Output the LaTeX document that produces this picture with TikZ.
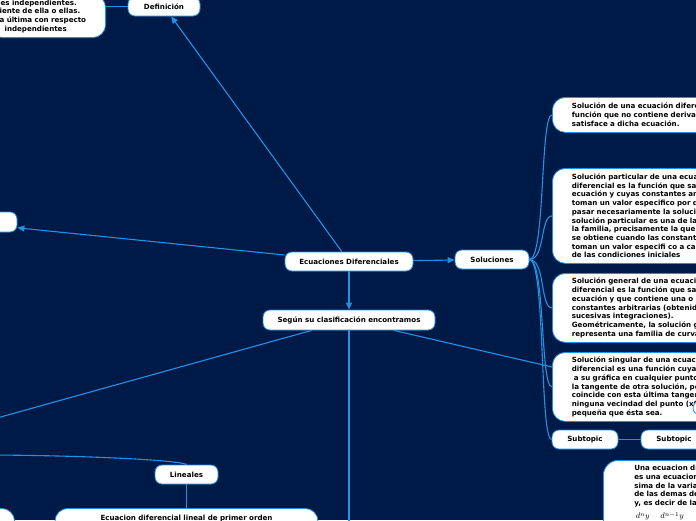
\documentclass[tikz,border=0pt]{standalone}
\usepackage{fontspec}
\setmainfont{DejaVu Sans}
\usetikzlibrary{arrows.meta}

\definecolor{mapnavy}{HTML}{001A48}
\definecolor{mapblue}{HTML}{2192E3}

\begin{document}
\begin{tikzpicture}[x=1pt,y=-1pt,
  onderwerp/.style={draw=mapblue,line width=0.8pt,fill=white,rounded corners=7pt,
    minimum height=19pt,inner sep=0pt,font=\bfseries\fontsize{7.1}{8.7}\selectfont},
  tekstvak/.style={draw=mapblue,line width=0.8pt,fill=white,rounded corners=13pt,
    align=left,inner xsep=19.5pt,inner ysep=0pt,text width=260pt,
    font=\bfseries\fontsize{7.1}{8.7}\selectfont},
  tak/.style={mapblue,line width=1.1pt},
  pijl/.style={tak,-{Triangle[length=7pt,width=6pt]}}]

  % achtergrond
  \useasboundingbox (0,0) rectangle (696,520);
  \fill[mapnavy] (0,0) rectangle (696,520);
  \clip (0,0) rectangle (696,520);

  % knopen
  \node[onderwerp,minimum width=128pt] (ed) at (349,261.5) {Ecuaciones Diferenciales};
  \node[onderwerp,minimum width=172pt,minimum height=20pt] (sg) at (349,320)
    {Según su clasificación encontramos};
  \node[onderwerp,minimum width=74pt] (sol) at (492,259.5) {Soluciones};
  \node[onderwerp,minimum width=72pt] (def) at (164,6.5) {Definición};
  \node[onderwerp,minimum width=114pt,minimum height=20pt] (links) at (-40,222) {};
  \node[onderwerp,minimum width=63pt] (lin) at (186.5,474.5) {Lineales};
  \node[onderwerp,minimum width=66pt] (sub1) at (585,439.5) {Subtopic};
  \node[onderwerp,minimum width=66pt] (sub2) at (674,439.5) {Subtopic};

  % tekstvakken
  \node[tekstvak,anchor=south east,text width=112pt,inner xsep=2pt,inner ysep=5pt]
    (deftekst) at (106,38)
    {\hspace{9pt}es independientes.\\\hspace{8pt}iente de ella o ellas.\\\hspace{8pt}a última con respecto\\\hspace{13pt}independientes};
  \node[tekstvak,anchor=north west,minimum height=35pt] (sa) at (552,97)
    {Solución de una ecuación diferencial\\función que no contiene derivadas\\satisface a dicha ecuación.};
  \node[tekstvak,anchor=north west,minimum height=95pt] (sb) at (552,168)
    {Solución particular de una ecuación\\diferencial es la función que satisface\\ecuación y cuyas constantes arbitrarias\\toman un valor especifico por de\\pasar necesariamente la solución\\solución particular es una de las\\la familia, precisamente la que\\se obtiene cuando las constantes\\toman un valor especifi co a causa\\de las condiciones iniciales};
  \node[tekstvak,anchor=north west,minimum height=69pt] (sc) at (552,273)
    {Solución general de una ecuación\\diferencial es la función que satisface\\ecuación y que contiene una o más\\constantes arbitrarias (obtenidas\\sucesivas integraciones).\\Geométricamente, la solución general\\representa una familia de curvas};
  \node[tekstvak,anchor=north west,minimum height=69pt] (sd) at (552,352)
    {Solución singular de una ecuación\\diferencial es una función cuya t\\\hspace{2pt}a su gráfica en cualquier punto\\la tangente de otra solución, pero\\coincide con esta última tangente\\ninguna vecindad del punto (x0\\pequeña que ésta sea.};
  \node[circle,draw=mapblue,line width=0.8pt,fill=white,minimum size=14pt,inner sep=0pt]
    (knop) at (700,408) {};
  \node[tekstvak,anchor=north west,text width=120pt,inner xsep=31pt,inner ysep=5pt,
    rounded corners=15pt] (se) at (603,460)
    {Una ecuacion diferencial\\es una ecuacion\\sima de la variable\\de las demas de\\y, es decir de la\\[4pt]
     {\fontsize{8}{10}\selectfont $\displaystyle\frac{d^ny}{dx^n}\quad\frac{d^{n-1}y}{dx^{n-1}}$}};
  \node[tekstvak,anchor=north,align=center,text width=231pt,inner xsep=16pt,inner ysep=7pt,
    text depth=30pt] (lintekst) at (186.5,508) {Ecuacion diferencial lineal de primer orden};
  \node[tekstvak,anchor=north east,text width=60pt,minimum height=40pt] (nolin) at (15,508) {};

  % losse eindpunten buiten beeld
  \coordinate (naarlinks) at (-100,445);
  \coordinate (naaronder) at (349,600);
  \coordinate (naarrechts) at (552,367);
  \coordinate (linlinks) at (-20,455);

  % verbindingen
  \draw[pijl] (ed) -- (def);
  \draw[pijl] (ed) -- (links);
  \draw[pijl] (ed) -- (sol);
  \draw[pijl] (ed) -- (sg);
  \draw[tak] (def.west) -- (def.west -| deftekst.east);
  \draw[tak] (sg) -- (naarlinks);
  \draw[tak] (sg) -- (naaronder);
  \draw[tak] (sg) -- (naarrechts);
  \foreach \vak in {sa,sb,sc,sd,sub1}
    \draw[tak] (sol.east) .. controls +(16,0) and +(-12,0) .. (\vak.west);
  \draw[tak] (sub1) -- (sub2);
  \draw[tak] (lin.north) .. controls +(-8,-5) and +(90,0) .. (linlinks);
  \draw[tak] (lin) -- (lintekst);

\end{tikzpicture}
\end{document}
